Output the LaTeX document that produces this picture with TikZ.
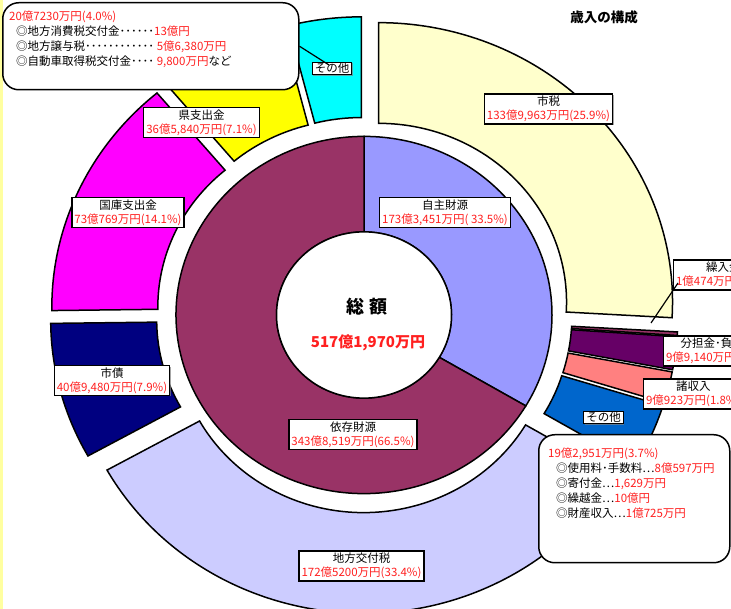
\documentclass[tikz,border=0pt]{standalone}
\usepackage{fontspec}
\setmainfont{Noto Sans CJK JP}
\usetikzlibrary{shadows}
\definecolor{cShizei}{HTML}{FFFFCC}
\definecolor{cKuriire}{HTML}{993366}
\definecolor{cBuntan}{HTML}{660066}
\definecolor{cShoshu}{HTML}{FF8080}
\definecolor{cSonotaA}{HTML}{0066CC}
\definecolor{cKofu}{HTML}{CCCCFF}
\definecolor{cShisai}{HTML}{000080}
\definecolor{cKokko}{HTML}{FF00FF}
\definecolor{cKen}{HTML}{FFFF00}
\definecolor{cSonotaB}{HTML}{00FFFF}
\definecolor{cJishu}{HTML}{9999FF}
\definecolor{cIzon}{HTML}{993366}
\definecolor{cStrip}{HTML}{FFFFA0}
\definecolor{cRed}{HTML}{FF2020}
\newcommand\ellip{{\addfontfeature{CharacterWidth=Full}…}}

\begin{document}
\begin{tikzpicture}[x=1pt, y=1pt,
  seg/.style={draw=black, line width=1.5pt},
  lbl/.style={draw, line width=1.2pt, fill=white, inner xsep=2.5pt, inner ysep=2pt, align=center,
    font=\fontsize{11.5}{14}\selectfont,
    drop shadow={shadow xshift=1pt, shadow yshift=-1pt, opacity=0.7}},
  callout/.style={draw, line width=1.5pt, fill=white, rounded corners=16pt},
  note/.style={inner sep=0pt, align=left, font=\fontsize{11.5}{15}\selectfont}]

  \useasboundingbox (0,0) rectangle (731,609);
  \clip (0,0) rectangle (731,609);
  \fill[cStrip] (0,0) rectangle (3,609);

  \begin{scope}[shift={(364,294)}, yscale=0.95]
    \foreach \a/\b/\c in {0/25.9/cShizei, 25.9/26.1/cKuriire, 26.1/28.0/cBuntan,
        28.0/29.8/cShoshu, 29.8/33.5/cSonotaA, 33.5/66.9/cKofu, 66.9/74.8/cShisai,
        74.8/88.9/cKokko, 88.9/96.0/cKen, 96.0/100/cSonotaB} {
      \pgfmathsetmacro\sa{90-3.6*\a}
      \pgfmathsetmacro\sb{90-3.6*\b}
      \pgfmathsetmacro\sm{(\sa+\sb)/2}
      \draw[seg, fill=\c, shift={(\sm:20)}] (\sa:188) arc[start angle=\sa, end angle=\sb, radius=188]
        -- (\sb:294) arc[start angle=\sb, end angle=\sa, radius=294] -- cycle;
    }
    \draw[seg, fill=cJishu] (90:188) arc[start angle=90, end angle=-30.6, radius=188]
      -- (-30.6:87.5) arc[start angle=-30.6, end angle=90, radius=87.5] -- cycle;
    \draw[seg, fill=cIzon] (-30.6:188) arc[start angle=-30.6, end angle=-270, radius=188]
      -- (-270:87.5) arc[start angle=-270, end angle=-30.6, radius=87.5] -- cycle;
    \draw[seg, fill=white] (0,0) circle[radius=87.5];
  \end{scope}

  \node[font=\bfseries\fontsize{18}{20}\selectfont] (total) at (367,302) {総 額};
  \node[text=cRed, font=\bfseries\fontsize{15}{18}\selectfont] (totalVal) at (368,266) {517億1,970万円};
  \node[font=\bfseries\fontsize{13.5}{16}\selectfont] (title) at (604,592) {歳入の構成};

  \node[lbl] (shizei) at (548.5,500) {市税\\\textcolor{cRed}{133億9,963万円(25.9\%)}};
  \node[lbl] (jishu) at (445,396.5) {自主財源\\\textcolor{cRed}{173億3,451万円( 33.5\%)}};
  \node[lbl] (izon) at (353,174.5) {依存財源\\\textcolor{cRed}{343億8,519万円(66.5\%)}};
  \node[lbl] (kofu) at (361.5,43) {地方交付税\\\textcolor{cRed}{172億5200万円(33.4\%)}};
  \node[lbl] (shisai) at (112,228.5) {市債\\\textcolor{cRed}{40億9,480万円(7.9\%)}};
  \node[lbl] (kokko) at (128,396.5) {国庫支出金\\\textcolor{cRed}{73億769万円(14.1\%)}};
  \node[lbl] (ken) at (201.5,486.5) {県支出金\\\textcolor{cRed}{36億5,840万円(7.1\%)}};
  \node[lbl, inner ysep=1pt] (sonotaB) at (332,540.5) {その他};
  \node[lbl, anchor=west] (kuriire) at (673,334) {繰入金\\\textcolor{cRed}{1億474万円(0.2\%)}};
  \node[lbl, anchor=west] (buntan) at (663,258) {分担金･負担金\\\textcolor{cRed}{9億9,140万円(1.9\%)}};
  \node[lbl, anchor=west] (shoshu) at (643,215) {諸収入\\\textcolor{cRed}{9億923万円(1.8\%)}};
  \node[lbl, inner ysep=1pt] (sonotaA) at (603.5,191.5) {その他};

  \coordinate (kuriEnd) at (651,286);
  \draw[line width=1.2pt] (kuriEnd) -- ([shift={(5,-8)}]kuriire.west);

  \node[callout, minimum width=296, minimum height=87, anchor=north west] (noteB) at (2,607) {};
  \node[note, anchor=north west] (noteBtxt) at (9,598.5)
    {\textcolor{cRed}{20億7230万円(4.0\%)}\\
     \hspace*{7pt}◎地方消費税交付金･･････\textcolor{cRed}{13億円}\\
     \hspace*{7pt}◎地方譲与税････････････ \textcolor{cRed}{5億6,380万円}\\
     \hspace*{7pt}◎自動車取得税交付金････ \textcolor{cRed}{9,800万円}など};
  \draw[line width=1.2pt] (noteB.east) -- ([shift={(-3,3.5)}]sonotaB.center);

  \node[callout, minimum width=191, minimum height=128, anchor=north west] (noteA) at (538,175) {};
  \node[note, anchor=north west] (noteAtxt) at (548,161.5)
    {\textcolor{cRed}{19億2,951万円(3.7\%)}\\
     \hspace*{8pt}◎使用料･手数料\ellip\textcolor{cRed}{8億597万円}\\
     \hspace*{8pt}◎寄付金\ellip\textcolor{cRed}{1,629万円}\\
     \hspace*{8pt}◎繰越金\ellip\textcolor{cRed}{10億円}\\
     \hspace*{8pt}◎財産収入\ellip\textcolor{cRed}{1億725万円}};
\end{tikzpicture}
\end{document}
